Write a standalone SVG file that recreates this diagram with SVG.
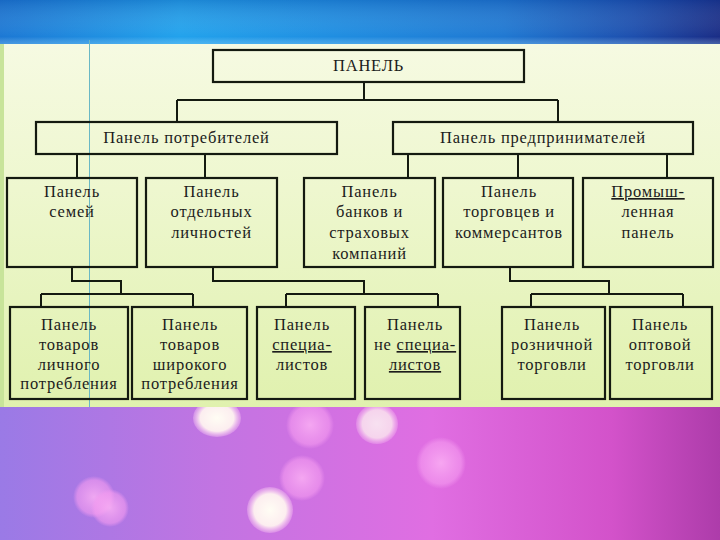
<svg xmlns="http://www.w3.org/2000/svg" width="720" height="540" viewBox="0 0 720 540">
<defs>
<linearGradient id="blueH" x1="0" y1="0" x2="1" y2="0">
<stop offset="0" stop-color="#1c78d4"/>
<stop offset="0.25" stop-color="#22a2ec"/>
<stop offset="0.45" stop-color="#1f8fe2"/>
<stop offset="0.7" stop-color="#1f78d2"/>
<stop offset="0.88" stop-color="#1d4fae"/>
<stop offset="1" stop-color="#1a2d86"/>
</linearGradient>
<linearGradient id="blueV" x1="0" y1="0" x2="0" y2="1">
<stop offset="0" stop-color="#0a3a90" stop-opacity="0.25"/>
<stop offset="0.8" stop-color="#ffffff" stop-opacity="0"/>
<stop offset="1" stop-color="#9fe0ff" stop-opacity="0.35"/>
</linearGradient>
<linearGradient id="panel" x1="0" y1="0" x2="0" y2="1">
<stop offset="0" stop-color="#f6fae2"/>
<stop offset="0.4" stop-color="#eef7cf"/>
<stop offset="1" stop-color="#e0f1ae"/>
</linearGradient>
<linearGradient id="pinkH" x1="0" y1="0" x2="1" y2="0">
<stop offset="0" stop-color="#9a7ae6"/>
<stop offset="0.3" stop-color="#c274e2"/>
<stop offset="0.6" stop-color="#e06ee2"/>
<stop offset="0.85" stop-color="#d352ca"/>
<stop offset="1" stop-color="#ad3caa"/>
</linearGradient>
<radialGradient id="glow" cx="0.5" cy="1" r="0.5">
<stop offset="0" stop-color="#f593ef" stop-opacity="0.8"/>
<stop offset="1" stop-color="#f593ef" stop-opacity="0"/>
</radialGradient>
<radialGradient id="bokW">
<stop offset="0" stop-color="#fffdf4"/>
<stop offset="0.7" stop-color="#fff4f0" stop-opacity="0.95"/>
<stop offset="1" stop-color="#ffd0f4" stop-opacity="0.3"/>
</radialGradient>
<radialGradient id="bokP">
<stop offset="0" stop-color="#fbb0f4" stop-opacity="0.85"/>
<stop offset="0.8" stop-color="#f59cf0" stop-opacity="0.6"/>
<stop offset="1" stop-color="#f59cf0" stop-opacity="0"/>
</radialGradient>
</defs>
<style>
.box{fill:none;stroke:#141a10;stroke-width:2.2}
.con{fill:none;stroke:#141a10;stroke-width:2}
text{font-family:"Liberation Serif","Times New Roman",serif;font-size:16.5px;fill:#1c1c1c;text-anchor:middle;letter-spacing:0.8px}
.u{text-decoration:underline}
</style>
<!-- background -->
<rect x="0" y="0" width="720" height="46" fill="url(#blueH)"/>
<rect x="0" y="0" width="720" height="46" fill="url(#blueV)"/>
<rect x="0" y="405" width="720" height="135" fill="url(#pinkH)"/>
<ellipse cx="360" cy="540" rx="260" ry="110" fill="url(#glow)"/>
<ellipse cx="310" cy="425" rx="24" ry="24" fill="url(#bokP)"/>
<ellipse cx="441" cy="463" rx="25" ry="26" fill="url(#bokP)"/>
<ellipse cx="302" cy="478" rx="23" ry="23" fill="url(#bokP)"/>
<ellipse cx="94" cy="497" rx="21" ry="21" fill="url(#bokP)"/>
<ellipse cx="110" cy="508" rx="19" ry="19" fill="url(#bokP)"/>
<ellipse cx="377" cy="424" rx="21" ry="20" fill="url(#bokW)" opacity="0.8"/>
<ellipse cx="217" cy="418" rx="24" ry="19" fill="url(#bokW)"/>
<ellipse cx="270" cy="510" rx="23" ry="23" fill="url(#bokW)"/>
<rect x="0" y="44" width="720" height="363" fill="url(#panel)"/>
<rect x="0" y="44" width="4" height="363" fill="#c8e49a"/>
<line x1="89.5" y1="40" x2="89.5" y2="407" stroke="#6ab8c4" stroke-width="1"/>
<!-- connectors -->
<g id="connectors">
<path class="con" d="M364,82 V100 M177,100 H558 M177,100 V122 M558,100 V122"/>
<path class="con" d="M77,154 V178 M205,154 V178 M408,154 V178 M518,154 V178 M667,154 V178"/>
<path class="con" d="M72,267 V281 H121 V294 M41,294 H193 M41,294 V307 M193,294 V307"/>
<path class="con" d="M213,267 V281 H364 V294 M286,294 H438 M286,294 V307 M438,294 V307"/>
<path class="con" d="M510,267 V281 H609 V294 M531,294 H683 M531,294 V307 M683,294 V307"/>
</g>
<!-- nodes -->
<g id="panel-root"><rect class="box" x="213" y="50" width="311" height="32"/><text x="368.5" y="71">ПАНЕЛЬ</text></g>
<g id="consumers"><rect class="box" x="36" y="122" width="301" height="32"/><text x="186.5" y="143">Панель потребителей</text></g>
<g id="entrepreneurs"><rect class="box" x="393" y="122" width="300" height="32"/><text x="543" y="143">Панель предпринимателей</text></g>
<g id="families"><rect class="box" x="7" y="178" width="130" height="89"/><text x="72" y="197">Панель</text><text x="72" y="217">семей</text></g>
<g id="individuals"><rect class="box" x="146" y="178" width="131" height="89"/><text x="211.5" y="197">Панель</text><text x="211.5" y="217">отдельных</text><text x="211.5" y="238">личностей</text></g>
<g id="banks"><rect class="box" x="304" y="178" width="131" height="89"/><text x="369.5" y="197">Панель</text><text x="369.5" y="217">банков и</text><text x="369.5" y="238">страховых</text><text x="369.5" y="259">компаний</text></g>
<g id="traders"><rect class="box" x="443" y="178" width="130" height="89"/><text x="509" y="197">Панель</text><text x="509" y="217">торговцев и</text><text x="509" y="238">коммерсантов</text></g>
<g id="industrial"><rect class="box" x="583" y="178" width="130" height="89"/><text x="648" y="197" class="u">Промыш-</text><text x="648" y="217">ленная</text><text x="648" y="238">панель</text></g>
<g id="personal-goods"><rect class="box" x="10" y="307" width="118" height="92"/><text x="69" y="330">Панель</text><text x="69" y="350">товаров</text><text x="69" y="370">личного</text><text x="69" y="389">потребления</text></g>
<g id="wide-goods"><rect class="box" x="132" y="307" width="115" height="92"/><text x="190" y="330">Панель</text><text x="190" y="350">товаров</text><text x="190" y="370">широкого</text><text x="190" y="389">потребления</text></g>
<g id="specialists"><rect class="box" x="257" y="307" width="98" height="92"/><text x="302" y="330">Панель</text><text x="302" y="350" class="u">специа-</text><text x="302" y="370">листов</text></g>
<g id="non-specialists"><rect class="box" x="365" y="307" width="95" height="92"/><text x="415" y="330">Панель</text><text x="415" y="350">не <tspan class="u">специа-</tspan></text><text x="415" y="370" class="u">листов</text></g>
<g id="retail"><rect class="box" x="502" y="307" width="103" height="92"/><text x="552" y="330">Панель</text><text x="552" y="350">розничной</text><text x="552" y="370">торговли</text></g>
<g id="wholesale"><rect class="box" x="610" y="307" width="102" height="92"/><text x="660" y="330">Панель</text><text x="660" y="350">оптовой</text><text x="660" y="370">торговли</text></g>
</svg>
